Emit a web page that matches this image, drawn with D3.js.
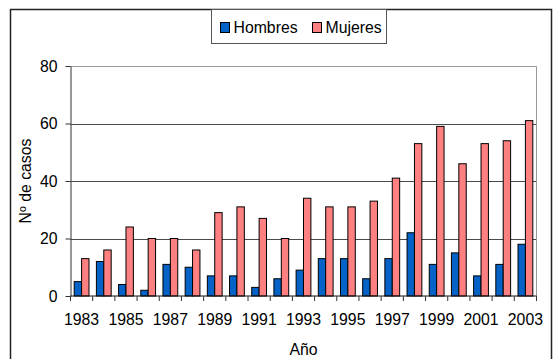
<!DOCTYPE html>
<html>
<head>
<meta charset="utf-8">
<script src="https://cdn.jsdelivr.net/npm/d3@7"></script>
<style>
  body { margin: 0; background: #fff; }
  svg { display: block; font-family: "Liberation Sans", Arial, sans-serif; }
</style>
</head>
<body>
<div id="container"></div>
<script>
var years = ['1983','1984','1985','1986','1987','1988','1989','1990','1991','1992','1993',
  '1994','1995','1996','1997','1998','1999','2000','2001','2002','2003'];
var hombres = [5, 12, 4, 2, 11, 10, 7, 7, 3, 6, 9, 13, 13, 6, 13, 22, 11, 15, 7, 11, 18];
var mujeres = [13, 16, 24, 20, 20, 16, 29, 31, 27, 20, 34, 31, 31, 33, 41, 53, 59, 46, 53, 54, 61];
var seriesNames = ['Hombres', 'Mujeres'];
var seriesColors = ['#0563c8', '#ff8080'];
var yTicks = [0, 20, 40, 60, 80];
var xLabels = years.filter(function(d, i) { return i % 2 == 0; });

var width = 554, height = 359;
var margin = {left: 70.5, right: 17.5, top: 66, bottom: 63};
var fontSize = '15.8px';

var svg = d3.select('#container').append('svg')
  .attr('width', width)
  .attr('height', height);

// outer chart border
svg.append('rect')
  .attr('x', 10.5).attr('y', 9.5)
  .attr('width', 541).attr('height', 360)
  .attr('fill', 'none')
  .attr('stroke', '#222')
  .attr('stroke-width', 1.5);

var x = d3.scaleBand()
  .domain(years)
  .range([margin.left, width - margin.right])
  .padding(0);

var x1 = d3.scaleBand()
  .domain(seriesNames)
  .range([0, x.bandwidth()])
  .paddingInner(0)
  .paddingOuter(0.5);

var y = d3.scaleLinear()
  .domain([0, 80])
  .range([height - margin.bottom, margin.top]);

// gridlines
svg.append('g')
  .selectAll('line')
  .data(yTicks.filter(function(d) { return d > 0 && d < 80; }))
  .enter()
  .append('line')
  .attr('x1', margin.left).attr('x2', width - margin.right)
  .attr('y1', function(d) { return Math.round(y(d)) + 0.5; })
  .attr('y2', function(d) { return Math.round(y(d)) + 0.5; })
  .attr('stroke', '#4a4a4a');

// plot area border (top / right)
svg.append('path')
  .attr('d', 'M' + margin.left + ',' + (Math.round(y(80)) + 0.5) +
    'H' + (width - margin.right) + 'V' + y(0))
  .attr('fill', 'none')
  .attr('stroke', '#999');

// bars
var rows = years.map(function(yr, i) {
  return {year: yr, values: [hombres[i], mujeres[i]]};
});

var groups = svg.append('g')
  .selectAll('g')
  .data(rows)
  .enter()
  .append('g')
  .attr('transform', function(d) { return 'translate(' + x(d.year) + ',0)'; });

groups.selectAll('rect')
  .data(function(d) {
    return d.values.map(function(v, j) { return {key: seriesNames[j], value: v, color: seriesColors[j]}; });
  })
  .enter()
  .append('rect')
  .attr('x', function(d) { return x1(d.key); })
  .attr('y', function(d) { return y(d.value); })
  .attr('width', x1.bandwidth())
  .attr('height', function(d) { return y(0) - y(d.value); })
  .attr('fill', function(d) { return d.color; })
  .attr('stroke', '#000')
  .attr('stroke-width', 1);

// y axis
var yAxis = svg.append('g')
  .attr('transform', 'translate(' + margin.left + ',0)')
  .call(d3.axisLeft(y).tickValues(yTicks).tickSize(5).tickPadding(8).tickSizeOuter(0));
yAxis.select('.domain').attr('stroke', '#333');
yAxis.selectAll('.tick line').attr('stroke', '#333');
yAxis.selectAll('text').attr('font-size', fontSize).attr('fill', '#000')
  .attr('font-family', '"Liberation Sans", Arial, sans-serif');

// x axis: boundary ticks
var xAxis = svg.append('g')
  .attr('transform', 'translate(0,' + y(0) + ')');
xAxis.append('line')
  .attr('x1', margin.left).attr('x2', width - margin.right)
  .attr('stroke', '#111');
xAxis.selectAll('.btick')
  .data(years.concat(['end']))
  .enter()
  .append('line')
  .attr('class', 'btick')
  .attr('x1', function(d) { return d == 'end' ? x.range()[1] : x(d); })
  .attr('x2', function(d) { return d == 'end' ? x.range()[1] : x(d); })
  .attr('y1', 0).attr('y2', 5)
  .attr('stroke', '#333');

var xLab = svg.append('g')
  .attr('transform', 'translate(0,' + y(0) + ')')
  .call(d3.axisBottom(x).tickValues(xLabels).tickSize(0).tickPadding(18).tickSizeOuter(0));
xLab.select('.domain').remove();
xLab.selectAll('text').attr('font-size', fontSize).attr('fill', '#000')
  .attr('font-family', '"Liberation Sans", Arial, sans-serif');

// axis titles
svg.append('text')
  .attr('transform', 'translate(31,' + ((y(0) + y(80)) / 2) + ') rotate(-90)')
  .attr('text-anchor', 'middle')
  .attr('font-size', fontSize)
  .text('Nº de casos');

svg.append('text')
  .attr('x', (x.range()[0] + x.range()[1]) / 2)
  .attr('y', 355)
  .attr('text-anchor', 'middle')
  .attr('font-size', fontSize)
  .text('Año');

// legend
var legend = svg.append('g');
legend.append('rect')
  .attr('x', 211.5).attr('y', 9.5)
  .attr('width', 175).attr('height', 34)
  .attr('fill', '#fff')
  .attr('stroke', '#555');

var legX = [220, 312];
var items = legend.selectAll('.item')
  .data(seriesNames)
  .enter()
  .append('g')
  .attr('class', 'item')
  .attr('transform', function(d, i) { return 'translate(' + legX[i] + ',0)'; });
items.append('rect')
  .attr('x', 0.5).attr('y', 22.5)
  .attr('width', 9).attr('height', 10)
  .attr('fill', function(d, i) { return seriesColors[i]; })
  .attr('stroke', '#000');
items.append('text')
  .attr('x', 13.5)
  .attr('y', 33)
  .attr('font-size', fontSize)
  .text(function(d) { return d; });
</script>
</body>
</html>
